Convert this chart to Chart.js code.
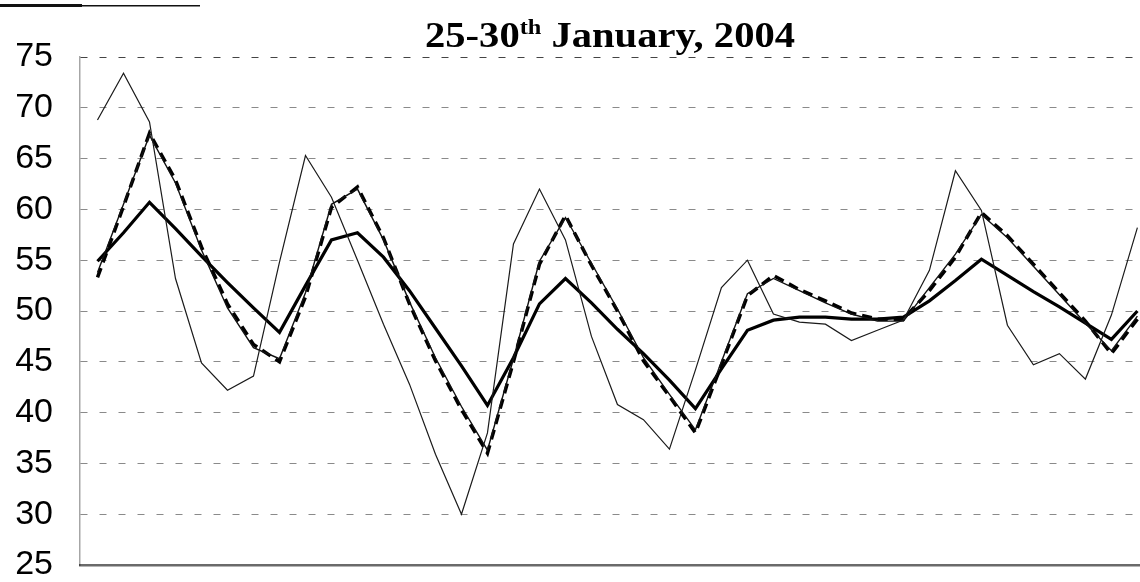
<!DOCTYPE html>
<html>
<head>
<meta charset="utf-8">
<title>25-30th January, 2004</title>
<script src="https://cdn.jsdelivr.net/npm/chart.js@4/dist/chart.umd.min.js"></script>
<style>
  html, body { margin: 0; padding: 0; background: #fff; }
</style>
</head>
<body>
<canvas id="grafico" width="1140" height="582"></canvas>
<script>
// Horas (cada 3 h) del 25 al 30 de enero de 2004
const horas = [
    '25/01 00h', '25/01 03h', '25/01 06h', '25/01 09h', '25/01 12h', '25/01 15h', '25/01 18h', '25/01 21h',
    '26/01 00h', '26/01 03h', '26/01 06h', '26/01 09h', '26/01 12h', '26/01 15h', '26/01 18h', '26/01 21h',
    '27/01 00h', '27/01 03h', '27/01 06h', '27/01 09h', '27/01 12h', '27/01 15h', '27/01 18h', '27/01 21h',
    '28/01 00h', '28/01 03h', '28/01 06h', '28/01 09h', '28/01 12h', '28/01 15h', '28/01 18h', '28/01 21h',
    '29/01 00h', '29/01 03h', '29/01 06h', '29/01 09h', '29/01 12h', '29/01 15h', '29/01 18h', '29/01 21h',
    '30/01 00h'
];

// Serie fina (valores medidos)
const serieMedida = [
    68.8, 73.4, 68.6, 53.2, 44.9, 42.2, 43.6, 54.8, 65.3, 61.2,
    55.0, 48.7, 42.8, 35.9, 30.0, 38.0, 56.6, 62.0, 57.0, 47.5,
    40.8, 39.3, 36.4, 44.2, 52.3, 55.0, 49.7, 48.9, 48.7, 47.1,
    48.1, 49.1, 54.0, 63.8, 59.9, 48.6, 44.7, 45.8, 43.3, 49.6,
    58.2
];

// Serie fina que va casi pegada a la discontinua
const serieModelo = [
    53.8, 60.5, 67.3, 62.6, 56.0, 50.3, 46.4, 45.3, 51.8, 60.5,
    62.0, 57.0, 50.9, 45.4, 40.6, 36.3, 45.3, 54.9, 59.2, 54.7,
    50.2, 45.4, 41.8, 38.3, 45.0, 51.7, 53.2, 52.0, 50.8, 49.7,
    49.0, 49.0, 52.3, 55.6, 59.5, 57.2, 54.4, 51.6, 48.8, 46.1,
    49.5
];

// Serie gruesa discontinua
const serieDiscontinua = [
    53.3, 60.3, 67.5, 62.9, 56.3, 50.7, 46.7, 45.0, 51.4, 60.2,
    62.2, 57.2, 50.7, 45.1, 40.3, 36.0, 45.0, 54.6, 59.4, 54.5,
    50.0, 45.1, 41.6, 38.0, 44.7, 51.5, 53.5, 52.1, 51.0, 49.8,
    49.2, 49.2, 52.0, 55.3, 59.7, 57.4, 54.6, 51.8, 49.0, 45.8,
    49.2
];

// Serie gruesa continua (suavizada)
const serieSuavizada = [
    54.9, 57.7, 60.7, 58.1, 55.4, 52.8, 50.3, 47.9, 52.5, 57.0,
    57.7, 55.3, 52.0, 48.3, 44.6, 40.7, 45.4, 50.7, 53.2, 50.8,
    48.2, 45.8, 43.2, 40.4, 44.3, 48.1, 49.1, 49.4, 49.4, 49.2,
    49.2, 49.4, 51.0, 53.0, 55.1, 53.5, 51.9, 50.4, 48.8, 47.2,
    50.0
];

const marcasY = [25, 30, 35, 40, 45, 50, 55, 60, 65, 70, 75];

// Convierte una lista de valores en puntos {x: índice de la hora, y}
const puntos = (valores) => valores.map((v, i) => ({ x: i, y: v }));

// Título con superíndice y la raya de arriba a la izquierda
const tituloPlugin = {
    id: 'titulo',
    afterDraw(chart) {
        const ctx = chart.ctx;
        const base = "bold 35px 'Liberation Serif', 'Times New Roman', serif";
        const sup = "bold 21px 'Liberation Serif', 'Times New Roman', serif";

        ctx.save();
        ctx.fillStyle = '#000';
        ctx.textBaseline = 'alphabetic';
        ctx.font = base;
        const w1 = ctx.measureText('25-30').width;
        const w3 = ctx.measureText(' January, 2004').width;
        ctx.font = sup;
        const w2 = ctx.measureText('th').width;

        const ancho = 370;
        ctx.translate(610 - ancho / 2, 47);
        ctx.scale(ancho / (w1 + w2 + w3), 1);
        ctx.font = base;
        ctx.fillText('25-30', 0, 0);
        ctx.font = sup;
        ctx.fillText('th', w1, -13);
        ctx.font = base;
        ctx.fillText(' January, 2004', w1 + w2, 0);
        ctx.restore();

        ctx.save();
        ctx.fillStyle = '#111';
        ctx.fillRect(0, 4, 82, 3);
        ctx.fillRect(82, 5, 118, 1.5);
        ctx.restore();
    }
};

const renderGrafico = () => {
    const ctx = document.getElementById('grafico').getContext('2d');

    new Chart(ctx, {
        type: 'line',
        data: {
            datasets: [
                {
                    label: 'Medido',
                    data: puntos(serieMedida),
                    borderColor: '#1a1a1a',
                    borderWidth: 1.2,
                    pointRadius: 0
                },
                {
                    label: 'Modelo',
                    data: puntos(serieModelo),
                    borderColor: '#111',
                    borderWidth: 1.4,
                    pointRadius: 0
                },
                {
                    label: 'Modelo (discontinua)',
                    data: puntos(serieDiscontinua),
                    borderColor: '#000',
                    borderWidth: 3.5,
                    borderDash: [10, 6],
                    pointRadius: 0
                },
                {
                    label: 'Suavizada',
                    data: puntos(serieSuavizada),
                    borderColor: '#000',
                    borderWidth: 3.2,
                    pointRadius: 0
                }
            ]
        },
        options: {
            responsive: false,
            animation: false,
            layout: { padding: { top: 57, bottom: 17, left: 0, right: 0 } },
            plugins: {
                legend: { display: false },
                title: { display: false },
                tooltip: {
                    callbacks: {
                        title: (items) => horas[items[0].parsed.x],
                        label: (item) => `${item.dataset.label}: ${item.parsed.y.toFixed(1)}`
                    }
                }
            },
            scales: {
                x: {
                    type: 'linear',
                    min: -0.673,
                    max: 40.1,
                    afterFit: (escala) => { escala.height = 0; },
                    ticks: { display: false },
                    grid: { display: false, drawTicks: false },
                    border: { display: true, color: '#6a6a6a', width: 2.5 }
                },
                y: {
                    min: 25,
                    max: 75,
                    afterFit: (escala) => {
                        escala.width = 80;
                        escala.paddingTop = 0;
                        escala.paddingBottom = 0;
                    },
                    afterBuildTicks: (escala) => { escala.ticks = marcasY.map(v => ({ value: v })); },
                    ticks: {
                        color: '#000',
                        padding: 27,
                        font: { family: "'Liberation Sans', Arial, sans-serif", size: 34, lineHeight: 1 }
                    },
                    grid: {
                        drawTicks: false,
                        lineWidth: 1,
                        color: (c) => {
                            if (c.tick.value === 25) return 'rgba(0,0,0,0)';
                            if (c.tick.value === 75) return '#444';
                            return '#8a8a8a';
                        }
                    },
                    border: { display: true, color: 'rgba(0,0,0,0.35)', width: 1.5, dash: [7, 12] }
                }
            }
        },
        plugins: [tituloPlugin]
    });
};

renderGrafico();
</script>
</body>
</html>
